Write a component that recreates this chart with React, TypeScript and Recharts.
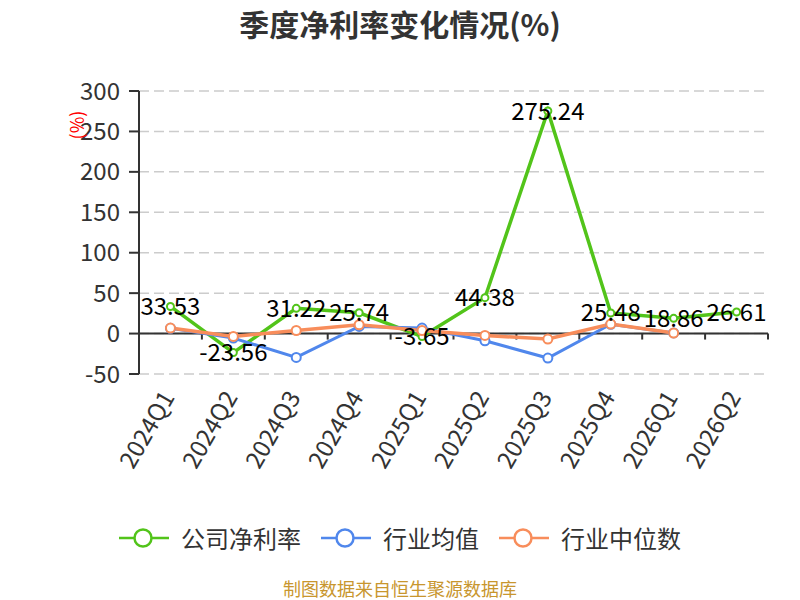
import React from 'react';
import { LineChart, Line, XAxis, YAxis, CartesianGrid, ReferenceLine } from 'recharts';

const quarters = ['2024Q1', '2024Q2', '2024Q3', '2024Q4', '2025Q1', '2025Q2', '2025Q3', '2025Q4', '2026Q1', '2026Q2'];
const companyRate = [33.53, -23.56, 31.22, 25.74, -3.65, 44.38, 275.24, 25.48, 18.86, 26.61];
const industryAvg = [6.5, -5.6, -29.5, 8.8, 6.8, -8.9, -30.3, 11.5, 0.8, null];
const industryMedian = [6.8, -3.5, 3.8, 10.9, 3.8, -2.3, -6.8, 11.7, 0.6, null];
const yTicks = [-50, 0, 50, 100, 150, 200, 250, 300];

const GREEN = '#52C41A';
const BLUE = '#5087EC';
const ORANGE = '#F88D5B';
const FONT = "'Noto Sans CJK SC', 'Microsoft YaHei', sans-serif";

const rows = quarters.map((q, i) => ({
    idx: i,
    name: q,
    company: companyRate[i],
    avg: industryAvg[i],
    median: industryMedian[i],
}));

// tick marks on the zero line sit on the category boundaries
const boundaries = quarters.map((_, i) => i + 0.5);

const XTick = ({ x, y, payload }: any) => {
    const ax = x - 4;
    const ay = y + 18;
    return (
        <text
            x={ax}
            y={ay}
            transform={`rotate(-60 ${ax} ${ay})`}
            textAnchor="end"
            dominantBaseline="central"
            fontSize={24}
            fontFamily={FONT}
            fill="#333"
        >
            {quarters[payload.value]}
        </text>
    );
};

const ValueLabel = ({ x, y, value }: any) => (
    <text x={x} y={y - 2} textAnchor="middle" dominantBaseline="central" fontSize={24} fontFamily={FONT} fill="#000">
        {value}
    </text>
);

const legendItems = [
    { name: '公司净利率', color: GREEN },
    { name: '行业均值', color: BLUE },
    { name: '行业中位数', color: ORANGE },
];

export default function App() {
    return (
        <div style={{ position: 'absolute', left: 0, top: 0, width: 800, height: 600, background: '#fff', fontFamily: FONT, overflow: 'hidden' }}>
            <div style={{ position: 'absolute', top: 5, left: 0, width: 800, textAlign: 'center', fontSize: 30, fontWeight: 'bold', color: '#333', lineHeight: '36px' }}>
                季度净利率变化情况(%)
            </div>
            <div style={{ position: 'absolute', left: 76, top: 125, transform: 'translate(-50%, -50%) rotate(-90deg)', color: '#f00', fontSize: 18, lineHeight: '18px', zIndex: 2 }}>
                (%)
            </div>

            <LineChart width={800} height={600} data={rows} margin={{ top: 91, right: 32, bottom: 0, left: 0 }}>
                <CartesianGrid vertical={false} stroke="#ccc" strokeDasharray="10 5" strokeWidth={1.5} />
                <XAxis
                    type="number"
                    dataKey="idx"
                    domain={[-0.5, 9.5]}
                    ticks={quarters.map((_, i) => i)}
                    interval={0}
                    allowDecimals
                    axisLine={false}
                    tickLine={false}
                    tickSize={0}
                    tickMargin={0}
                    height={226}
                    tick={<XTick />}
                />
                <YAxis
                    width={139}
                    domain={[-50, 300]}
                    ticks={yTicks}
                    interval={0}
                    axisLine={{ stroke: '#333', strokeWidth: 2 }}
                    tickLine={{ stroke: '#333', strokeWidth: 2 }}
                    tickSize={10}
                    tickMargin={9}
                    tick={{ fill: '#333', fontSize: 24, fontFamily: FONT }}
                />
                <ReferenceLine y={0} stroke="#333" strokeWidth={2} />
                {boundaries.map((b) => (
                    <ReferenceLine
                        key={b}
                        segment={[{ x: b, y: 0 }, { x: b, y: -7.4 }]}
                        stroke="#333"
                        strokeWidth={2}
                    />
                ))}
                <Line
                    dataKey="company"
                    stroke={GREEN}
                    strokeWidth={3.5}
                    dot={{ r: 3.5, fill: '#fff', stroke: GREEN, strokeWidth: 2 }}
                    isAnimationActive={false}
                />
                <Line
                    dataKey="avg"
                    stroke={BLUE}
                    strokeWidth={3}
                    dot={{ r: 4.5, fill: '#fff', stroke: BLUE, strokeWidth: 2 }}
                    isAnimationActive={false}
                />
                <Line
                    dataKey="median"
                    stroke={ORANGE}
                    strokeWidth={3.5}
                    dot={{ r: 4.5, fill: '#fff', stroke: ORANGE, strokeWidth: 2 }}
                    isAnimationActive={false}
                />
                {/* labels on top of every series */}
                <Line
                    dataKey="company"
                    stroke="none"
                    dot={false}
                    activeDot={false}
                    legendType="none"
                    label={<ValueLabel />}
                    isAnimationActive={false}
                />
            </LineChart>

            <div style={{ position: 'absolute', top: 524, left: 0, width: 800, display: 'flex', justifyContent: 'center', gap: 20 }}>
                {legendItems.map((it) => (
                    <div key={it.name} style={{ display: 'flex', alignItems: 'center', height: 28 }}>
                        <svg width={50} height={24}>
                            <line x1={0} y1={12} x2={50} y2={12} stroke={it.color} strokeWidth={2.5} />
                            <circle cx={24} cy={12} r={8.5} fill="#fff" stroke={it.color} strokeWidth={2.5} />
                        </svg>
                        <span style={{ marginLeft: 12, fontSize: 24, color: '#333', lineHeight: '28px' }}>{it.name}</span>
                    </div>
                ))}
            </div>

            <div style={{ position: 'absolute', top: 578, left: 0, width: 800, textAlign: 'center', fontSize: 18, color: '#C8962E', lineHeight: '20px' }}>
                制图数据来自恒生聚源数据库
            </div>
        </div>
    );
}
